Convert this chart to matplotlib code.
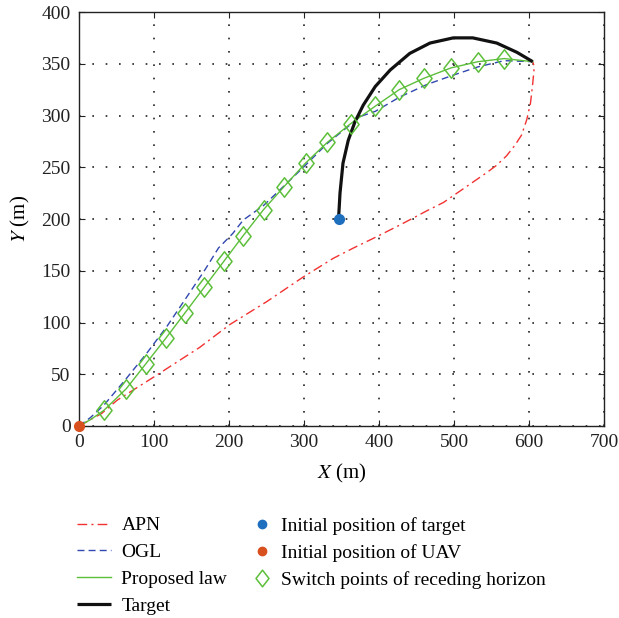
import matplotlib
matplotlib.use("Agg")
import matplotlib.pyplot as plt
from matplotlib.path import Path

plt.rcParams['font.family'] = ['Liberation Serif', 'DejaVu Serif']
plt.rcParams['mathtext.fontset'] = 'stix'

# ---- data ----
apn_x = [0, 30, 51, 99, 161, 201, 250, 299, 339, 366, 400, 430, 464, 486, 508, 526, 544, 557, 570, 581, 590, 597, 602, 605, 607, 605]
apn_y = [0, 12, 25, 47, 76, 98, 120, 144, 162, 172, 184, 195, 208, 216, 227, 236, 245, 252, 261, 271, 281, 296, 312, 331, 347, 352]

ogl_x = [0, 15, 33, 61, 90, 117, 144, 168, 186, 205, 219, 246, 272, 302, 331, 375, 395, 428, 464, 499, 532, 567, 605]
ogl_y = [0, 8, 20, 44, 70, 96, 125, 151, 172, 186, 199, 213, 231, 252, 273, 299, 304, 318, 330, 339, 347, 353, 352]

prop_x = [0, 15, 33, 63, 89, 116, 141, 167, 193, 219, 246, 273, 302, 331, 362, 395, 427, 460, 496, 532, 567, 605]
prop_y = [0, 6, 15, 36, 60, 85, 109, 134, 159, 184, 209, 231, 254, 274, 292, 309, 325, 336, 346, 352, 355, 352]

switch_x = [33, 63, 89, 116, 141, 167, 193, 219, 246, 273, 302, 331, 362, 395, 427, 460, 496, 532, 567]
switch_y = [15, 36, 60, 85, 109, 134, 159, 184, 209, 231, 254, 274, 292, 309, 325, 336, 346, 352, 355]

target_x = [346, 347, 348, 352, 359, 368, 379, 395, 415, 441, 468, 499, 525, 557, 584, 605]
target_y = [200, 212, 225, 254, 276, 294, 310, 328, 344, 360, 370, 375, 375, 370, 361, 352]

target0 = (346, 200)
uav0 = (0, 0)

xticks = [0, 100, 200, 300, 400, 500, 600, 700]
yticks = [0, 50, 100, 150, 200, 250, 300, 350, 400]

# ---- figure ----
fig = plt.figure(figsize=(6.19, 6.18), dpi=100)
ax = fig.add_axes([79/619, 1-426/618, (604-79)/619, (426-12)/618])

diamond = Path([(0, 1), (0.78, 0), (0, -1), (-0.78, 0), (0, 1)],
               [Path.MOVETO, Path.LINETO, Path.LINETO, Path.LINETO, Path.CLOSEPOLY])

l_apn, = ax.plot(apn_x, apn_y, color='#f23232', ls=(0, (7, 3, 1.5, 3)), lw=1.0, label='APN')
l_ogl, = ax.plot(ogl_x, ogl_y, color='#3048b0', ls=(0, (5, 3)), lw=1.0, label='OGL')
l_prop, = ax.plot(prop_x, prop_y, color='#5cbf3a', ls='-', lw=1.0, label='Proposed law')
l_tgt, = ax.plot(target_x, target_y, color='#111111', ls='-', lw=2.3, label='Target',
                 solid_capstyle='butt', solid_joinstyle='round')
p_t0, = ax.plot([target0[0]], [target0[1]], 'o', color='#1f6fbf', ms=7, ls='none',
                label='Initial position of target', zorder=5)
p_u0, = ax.plot([uav0[0]], [uav0[1]], 'o', color='#d9501f', ms=7, ls='none',
                label='Initial position of UAV', zorder=5, clip_on=False)
p_sw, = ax.plot(switch_x, switch_y, marker=diamond, mfc='none', mec='#5cbf3a', ms=14, mew=1.1,
                ls='none', label='Switch points of receding horizon', zorder=4)

ax.set_xlim(0, 700)
ax.set_ylim(0, 400)
ax.set_xticks(xticks)
ax.set_yticks(yticks)
ax.tick_params(direction='in', top=True, right=True, labelsize=14, length=4, pad=6, colors='#222222')
ax.grid(True, ls=(0, (1, 7)), color='#222222', lw=1.2)
for s in ax.spines.values():
    s.set_color('#222222')
    s.set_linewidth(1.0)

ax.set_xlabel(r'$X$ (m)', fontsize=15, labelpad=8)
ax.set_ylabel(r'$Y$ (m)', fontsize=15, labelpad=7)

leg1 = fig.legend(handles=[l_apn, l_ogl, l_prop, l_tgt], loc='upper left',
                  bbox_to_anchor=(67/619, 1-507/618), frameon=False, fontsize=14,
                  handlelength=1.75, handletextpad=0.55, labelspacing=0.47, borderpad=0)
leg2 = fig.legend(handles=[p_t0, p_u0, p_sw], loc='upper left',
                  bbox_to_anchor=(243/619, 1-507/618), frameon=False, fontsize=14,
                  handlelength=1.0, handletextpad=0.45, labelspacing=0.47, borderpad=0)
leg2.legend_handles[0].set_markersize(6)
leg2.legend_handles[1].set_markersize(6)
leg2.legend_handles[2].set_markersize(12)

fig.savefig('out.png', dpi=100)
